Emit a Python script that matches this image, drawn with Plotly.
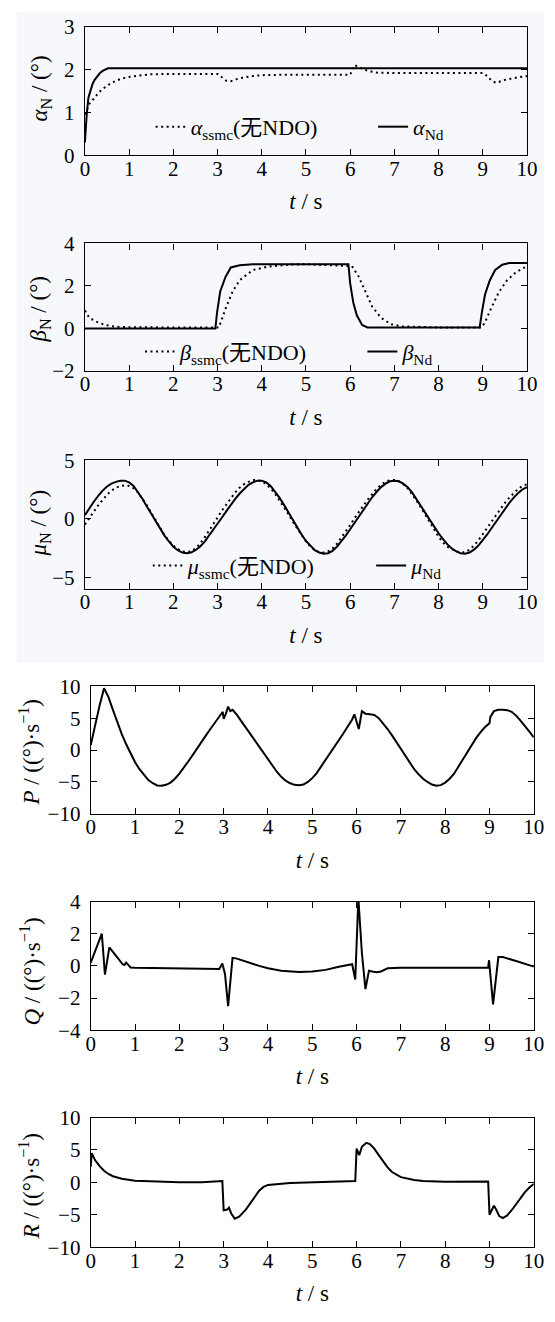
import plotly.graph_objects as go

# ---------------- data ----------------
# alpha panel
t_a_nd = [0, 0.02, 0.04, 0.08, 0.12, 0.17, 0.22, 0.28, 0.34, 0.4, 0.46, 0.52, 10]
a_nd = [0.3, 0.7, 0.95, 1.35, 1.52, 1.66, 1.76, 1.85, 1.92, 1.97, 2.0, 2.03, 2.03]
t_a_ss = [0, 0.05, 0.1, 0.2, 0.3, 0.4, 0.5, 0.6, 0.8, 1.0, 1.2, 1.5, 2.0, 2.5, 3.0, 3.1, 3.2,
          3.3, 3.5, 3.8, 4.0, 4.5, 5.0, 5.5, 6.0, 6.05, 6.1, 6.2, 6.4, 6.6, 7.0, 8.0, 9.0, 9.1,
          9.2, 9.3, 9.5, 9.8, 10]
a_ss = [0.95, 1.1, 1.2, 1.32, 1.45, 1.55, 1.62, 1.69, 1.78, 1.83, 1.86, 1.89, 1.9, 1.9, 1.9,
        1.82, 1.74, 1.73, 1.8, 1.85, 1.87, 1.88, 1.88, 1.88, 1.88, 2.0, 2.11, 2.05, 1.97, 1.93,
        1.92, 1.92, 1.92, 1.85, 1.74, 1.69, 1.76, 1.82, 1.85]

# beta panel
t_b_nd = [0, 2.95, 2.99, 3.06, 3.18, 3.3, 3.5, 3.8, 5.96, 6.0, 6.07, 6.15, 6.27, 6.39, 7.0,
          8.93, 8.98, 9.05, 9.16, 9.28, 9.44, 9.6, 10]
b_nd = [0, 0, 0.77, 1.74, 2.42, 2.87, 2.97, 3.02, 3.02, 2.12, 1.22, 0.62, 0.17, 0.05, 0.05,
        0.05, 0.77, 1.6, 2.27, 2.75, 3.0, 3.08, 3.08]
t_b_ss = [0, 0.1, 0.25, 0.45, 0.7, 1.0, 2.0, 3.03, 3.18, 3.34, 3.5, 3.8, 4.12, 4.6, 5.0, 6.04,
          6.19, 6.35, 6.5, 6.7, 6.93, 7.17, 8.0, 8.98, 9.05, 9.2, 9.36, 9.55, 9.75, 10]
b_ss = [0.85, 0.5, 0.33, 0.17, 0.08, 0.06, 0.05, 0.05, 0.92, 1.74, 2.27, 2.75, 2.9, 3.0, 3.02,
        2.93, 2.45, 1.7, 1.02, 0.5, 0.2, 0.1, 0.05, 0.05, 0.3, 1.0, 1.7, 2.27, 2.65, 2.93]

# mu panel (sampled every 0.1 s)
t_mu = [round(0.1 * i, 1) for i in range(101)]
mu_nd = [0.3, 0.9, 1.45, 1.95, 2.4, 2.75, 3.0, 3.15, 3.25, 3.25,
         3.1, 2.8, 2.3, 1.7, 1.05, 0.4, -0.25, -0.85, -1.45, -1.95,
         -2.4, -2.7, -2.9, -2.95, -2.9, -2.7, -2.4, -2.0, -1.5, -1.0,
         -0.45, 0.1, 0.65, 1.2, 1.7, 2.15, 2.55, 2.9, 3.1, 3.25,
         3.25, 3.1, 2.8, 2.35, 1.8, 1.2, 0.55, -0.1, -0.75, -1.35,
         -1.9, -2.35, -2.7, -2.9, -3.0, -2.95, -2.75, -2.4, -1.95, -1.45,
         -0.9, -0.35, 0.25, 0.8, 1.35, 1.85, 2.3, 2.7, 3.0, 3.2,
         3.25, 3.2, 3.0, 2.7, 2.25, 1.7, 1.1, 0.5, -0.1, -0.7,
         -1.25, -1.75, -2.2, -2.55, -2.8, -2.95, -3.0, -2.9, -2.65, -2.3,
         -1.85, -1.35, -0.8, -0.25, 0.3, 0.85, 1.35, 1.8, 2.2, 2.5,
         2.7]
mu_ss = [-0.5, 0.0, 0.6, 1.15, 1.65, 2.05, 2.4, 2.65, 2.8, 2.85,
         2.8, 2.6, 2.25, 1.75, 1.15, 0.5, -0.15, -0.8, -1.4, -1.9,
         -2.3, -2.6, -2.8, -2.85, -2.8, -2.55, -2.15, -1.65, -1.1, -0.5,
         0.1, 0.7, 1.25, 1.8, 2.25, 2.65, 2.95, 3.15, 3.3, 3.3,
         3.2, 2.95, 2.6, 2.15, 1.6, 1.0, 0.4, -0.25, -0.85, -1.45,
         -1.95, -2.4, -2.7, -2.85, -2.9, -2.8, -2.55, -2.15, -1.65, -1.1,
         -0.55, 0.05, 0.6, 1.15, 1.65, 2.1, 2.55, 2.9, 3.15, 3.3,
         3.3, 3.2, 2.95, 2.6, 2.1, 1.55, 0.95, 0.3, -0.35, -0.95,
         -1.55, -2.05, -2.4, -2.6, -2.8, -2.9, -2.85, -2.65, -2.3, -1.85,
         -1.35, -0.8, -0.25, 0.3, 0.85, 1.35, 1.8, 2.2, 2.55, 2.8,
         2.95]

# P panel
t_p = [0, 0.1, 0.2, 0.3, 0.4, 0.5, 0.6, 0.7, 0.8, 0.9, 1.0, 1.1, 1.2, 1.3, 1.4, 1.5, 1.6, 1.7,
       1.8, 1.9, 2.0, 2.1, 2.2, 2.3, 2.4, 2.5, 2.6, 2.7, 2.8, 2.9, 2.95, 2.98, 3.0, 3.05, 3.1,
       3.15, 3.2, 3.3, 3.4, 3.5, 3.6, 3.7, 3.8, 3.9, 4.0, 4.1, 4.2, 4.3, 4.4, 4.5, 4.6, 4.7,
       4.8, 4.9, 5.0, 5.1, 5.2, 5.3, 5.4, 5.5, 5.6, 5.7, 5.8, 5.9, 5.95, 6.05, 6.12, 6.2, 6.3,
       6.4, 6.5, 6.6, 6.7, 6.8, 6.9, 7.0, 7.1, 7.2, 7.3, 7.4, 7.5, 7.6, 7.7, 7.8, 7.9, 8.0,
       8.1, 8.2, 8.3, 8.4, 8.5, 8.6, 8.7, 8.8, 8.9, 9.0, 9.02, 9.1, 9.2, 9.3, 9.4, 9.5, 9.6,
       9.7, 9.8, 9.9, 10]
p_val = [0.8, 4.0, 7.0, 9.7, 8.3, 6.3, 4.3, 2.5, 0.9, -0.6, -1.9, -3.0, -3.9, -4.7, -5.2, -5.55,
         -5.6, -5.45, -5.1, -4.5, -3.7, -2.8, -1.8, -0.8, 0.3, 1.3, 2.3, 3.3, 4.3, 5.2, 5.8, 6.0,
         4.9, 5.7, 6.8, 6.1, 6.3, 5.5, 4.5, 3.5, 2.5, 1.5, 0.5, -0.6, -1.6, -2.6, -3.4, -4.2,
         -4.8, -5.2, -5.45, -5.5, -5.4, -5.0, -4.4, -3.6, -2.6, -1.6, -0.6, 0.4, 1.5, 2.6, 3.7,
         4.8, 5.6, 3.3, 6.1, 5.7, 5.6, 5.5, 5.0, 4.2, 3.3, 2.3, 1.2, 0.1, -1.0, -2.1, -3.0,
         -3.8, -4.5, -5.0, -5.4, -5.6, -5.5, -5.1, -4.5, -3.7, -2.6, -1.4, -0.2, 0.9, 1.9, 2.8,
         3.6, 4.2, 5.2, 6.1, 6.3, 6.3, 6.25, 6.0, 5.4, 4.6, 3.8, 2.9, 2.0]

# Q panel
t_q = [0, 0.25, 0.32, 0.42, 0.55, 0.65, 0.72, 0.76, 0.8, 0.85, 0.9, 1.0, 2.0, 2.9, 2.97, 3.03,
       3.1, 3.2, 3.3, 3.5, 3.8, 4.0, 4.3, 4.7, 5.0, 5.3, 5.6, 5.9, 5.97, 6.04, 6.12, 6.2, 6.28,
       6.35, 6.45, 6.55, 6.7, 7.0, 8.0, 8.97, 8.99, 9.08, 9.2, 9.3, 9.6, 10]
q_val = [0.2, 2.0, -0.55, 1.15, 0.7, 0.35, 0.1, 0.05, 0.2, 0.05, -0.1, -0.12, -0.15, -0.2, 0.15,
         -0.5, -2.5, 0.5, 0.45, 0.25, 0.0, -0.15, -0.3, -0.38, -0.35, -0.25, -0.05, 0.1, -0.85,
         4.2, 0.8, -1.45, -0.3, -0.35, -0.4, -0.35, -0.15, -0.12, -0.12, -0.1, 0.35, -2.4, 0.55,
         0.55, 0.3, -0.05]

# R panel
t_r = [0, 0.02, 0.1, 0.2, 0.3, 0.4, 0.5, 0.7, 1.0, 1.5, 2.0, 2.5, 2.97, 3.0, 3.08, 3.12, 3.17,
       3.25, 3.35, 3.5, 3.6, 3.7, 3.8, 3.9, 4.0, 4.5, 5.0, 5.5, 5.97, 6.0, 6.06, 6.12, 6.22, 6.3,
       6.4, 6.5, 6.6, 6.7, 6.8, 7.0, 7.3, 7.5, 8.0, 8.5, 8.97, 9.0, 9.05, 9.1, 9.15, 9.22, 9.3,
       9.4, 9.5, 9.6, 9.7, 9.8, 9.9, 10]
r_val = [2.4, 4.5, 3.4, 2.5, 1.8, 1.3, 0.95, 0.55, 0.25, 0.1, 0.0, 0.0, 0.2, -4.3, -4.2, -3.9,
         -4.8, -5.6, -5.3, -4.2, -3.2, -2.1, -1.3, -0.7, -0.4, -0.1, 0.0, 0.1, 0.2, 5.2, 4.2, 5.5,
         6.1, 5.9, 5.2, 4.2, 3.2, 2.3, 1.6, 0.8, 0.35, 0.2, 0.1, 0.1, 0.15, -5.0, -4.4, -3.6,
         -4.2, -5.2, -5.5, -5.1, -4.3, -3.3, -2.3, -1.5, -0.8, -0.25]

x_ticks = list(range(0, 11))
x_title = "<i>t</i> / s"
y_titles = ["<i>α</i><sub>N</sub> / (°)", "<i>β</i><sub>N</sub> / (°)", "<i>μ</i><sub>N</sub> / (°)",
            "<i>P</i> / ((°)·s<sup>−1</sup>)", "<i>Q</i> / ((°)·s<sup>−1</sup>)",
            "<i>R</i> / ((°)·s<sup>−1</sup>)"]

# ---------------- layout helpers ----------------
W, H = 555, 1322
FONT = "'Times New Roman', 'Liberation Serif', 'DejaVu Serif', 'Noto Sans CJK SC', serif"
DOT = "2px,3.5px"


def py(px):
    return 1 - px / H


def px_(x):
    return x / W


panels = [
    # (x0, x1, ytop, ybot, yrange, ytickvals, title x, title y)
    (82.3, 537.5, 15, 146, [0, 3], [0, 1, 2, 3], 37, 78),
    (82.3, 537.5, 235.7, 365.7, [-2, 4], [-2, 0, 2, 4], 36, 302),
    (82.3, 537.5, 456.5, 587.5, [-6, 5], [-5, 0, 5], 36, 520),
    (88.3, 544.5, 686.7, 816.7, [-10, 10], [-10, -5, 0, 5, 10], 25, 754),
    (88.3, 544.5, 906, 1037, [-4, 4], [-4, -2, 0, 2, 4], 26, 977),
    (88.3, 544.5, 1126, 1258, [-10, 10], [-10, -5, 0, 5, 10], 25, 1196),
]

fig = go.Figure()

series = [
    (1, t_a_ss, a_ss, "dot", "<i>α</i><sub>ssmc</sub>(无NDO)", "legend"),
    (1, t_a_nd, a_nd, "solid", "<i>α</i><sub>Nd</sub>", "legend2"),
    (2, t_b_ss, b_ss, "dot", "<i>β</i><sub>ssmc</sub>(无NDO)", "legend3"),
    (2, t_b_nd, b_nd, "solid", "<i>β</i><sub>Nd</sub>", "legend4"),
    (3, t_mu, mu_ss, "dot", "<i>μ</i><sub>ssmc</sub>(无NDO)", "legend5"),
    (3, t_mu, mu_nd, "solid", "<i>μ</i><sub>Nd</sub>", "legend6"),
    (4, t_p, p_val, "solid", None, None),
    (5, t_q, q_val, "solid", None, None),
    (6, t_r, r_val, "solid", None, None),
]

for k, tx, vy, style, name, leg in series:
    sfx = "" if k == 1 else str(k)
    line = dict(color="black", width=2)
    if style == "dot":
        line["dash"] = DOT
    tr = go.Scatter(x=tx, y=vy, mode="lines", line=line, xaxis="x" + sfx, yaxis="y" + sfx,
                    showlegend=name is not None, name=name or "")
    if leg:
        tr.legend = leg
    fig.add_trace(tr)

layout = dict(
    width=W, height=H, margin=dict(l=0, r=0, t=0, b=0),
    paper_bgcolor="white", plot_bgcolor="rgba(0,0,0,0)",
    font=dict(family=FONT, size=21, color="black"),
    showlegend=True,
    shapes=[dict(type="rect", xref="paper", yref="paper", x0=px_(12), x1=1, y0=py(663), y1=1,
                 fillcolor="#f7f8fc", line=dict(width=0), layer="below")],
    annotations=[],
)

common = dict(showline=True, linecolor="black", linewidth=1.3, mirror="ticks", ticks="inside",
              ticklen=6, tickwidth=1.3, tickcolor="black", showgrid=False, zeroline=False,
              tickfont=dict(family=FONT, size=21, color="black"))

for i, (x0, x1, yt, yb, yr, ytv, tx_, ty_) in enumerate(panels):
    k = i + 1
    sfx = "" if k == 1 else str(k)
    layout["xaxis" + sfx] = dict(
        domain=[px_(x0), px_(x1)], range=[0, 10], tickvals=x_ticks, anchor="y" + sfx,
        ticklabelstandoff=-6,
        title=dict(text=x_title, font=dict(family=FONT, size=23), standoff=13), **common)
    layout["yaxis" + sfx] = dict(
        domain=[py(yb), py(yt)], range=yr, tickvals=ytv, anchor="x" + sfx,
        ticklabelstandoff=5, **common)
    layout["annotations"].append(dict(
        text=y_titles[i], textangle=-90, xref="paper", yref="paper",
        x=px_(tx_), y=py(ty_), xanchor="center", yanchor="middle", showarrow=False,
        font=dict(family=FONT, size=23, color="black")))

# legends: one entry each, placed inside the top three panels
leg_pos = [("legend", 150, 117), ("legend2", 379, 117), ("legend3", 139, 346),
           ("legend4", 368, 346), ("legend5", 147, 564), ("legend6", 377, 564)]
for lname, lx, ly in leg_pos:
    layout[lname] = dict(x=px_(lx), y=py(ly), xanchor="left", yanchor="middle",
                         bgcolor="rgba(0,0,0,0)", borderwidth=0,
                         font=dict(family=FONT, size=22, color="black"),
                         orientation="h", itemwidth=30)

fig.update_layout(**layout)
fig.write_html("out.html")
